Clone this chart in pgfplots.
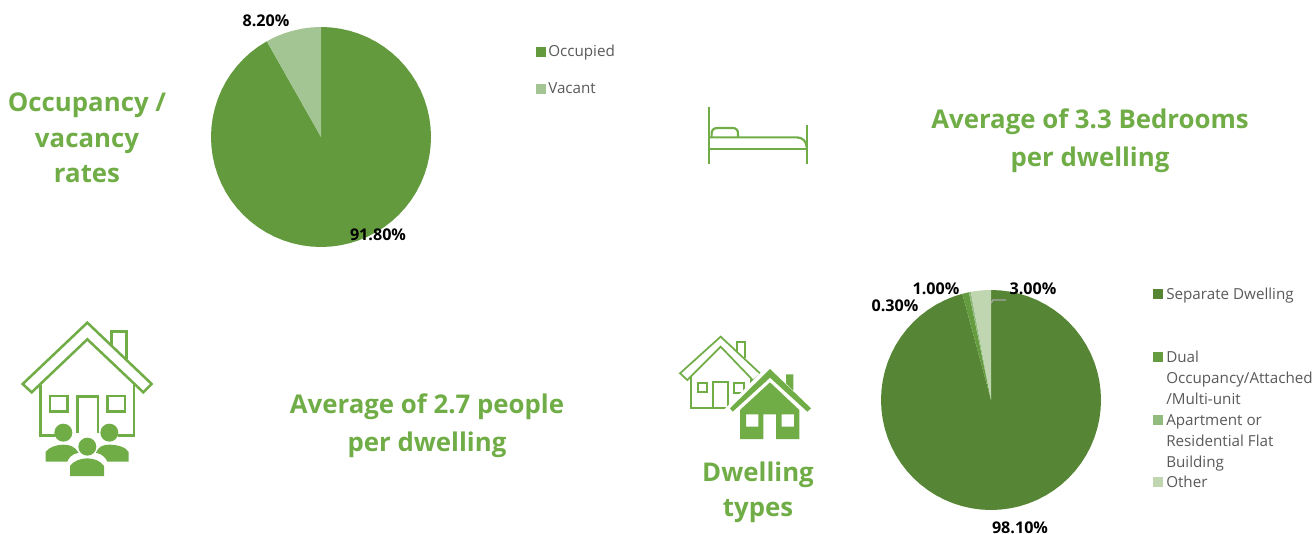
\documentclass[border=0pt]{standalone}
\usepackage{pgfplots}
\pgfplotsset{compat=1.18}
\usepgfplotslibrary{polar}
\usepackage{fontspec}
\setmainfont{Open Sans}

\definecolor{headgreen}{HTML}{70AD47}
\definecolor{occupied}{HTML}{629A3D}
\definecolor{vacant}{HTML}{A3C593}
\definecolor{separate}{HTML}{568535}
\definecolor{dual}{HTML}{659C3F}
\definecolor{apartment}{HTML}{92BB7E}
\definecolor{other}{HTML}{BFD6B1}
\definecolor{legendtext}{HTML}{595959}

% Sizes are given in drawing units: one unit is 0.75pt.
\newcommand{\headfont}{\fontsize{19.35}{23}\selectfont\bfseries\color{headgreen}}
\newcommand{\valfont}{\fontsize{12.1}{14}\selectfont\bfseries\color{black}}
\newcommand{\legfont}{\fontsize{11.4}{14}\selectfont\color{legendtext}}

\pgfplotsset{pieaxis/.style={
  hide axis, scale only axis, width=165pt, height=165pt,
  xmin=0, xmax=360, ymin=0, ymax=1, clip=false, anchor=center}}
\tikzset{wedge/.style={draw=none, mark=none}}

\begin{document}
\begin{tikzpicture}
\path[use as bounding box] (0,0) rectangle (987pt,-400.5pt);

% Occupancy: slices run clockwise from twelve o'clock, angle = 90 + 3.6 * share
\begin{polaraxis}[pieaxis, at={(240.75pt,-102.75pt)}]
\addplot[wedge, fill=occupied] coordinates {(0,0) (119.52,1) (125,1) (130,1) (135,1) (140,1) (145,1) (150,1) (155,1) (160,1) (165,1) (170,1) (175,1) (180,1) (185,1) (190,1) (195,1) (200,1) (205,1) (210,1) (215,1) (220,1) (225,1) (230,1) (235,1) (240,1) (245,1) (250,1) (255,1) (260,1) (265,1) (270,1) (275,1) (280,1) (285,1) (290,1) (295,1) (300,1) (305,1) (310,1) (315,1) (320,1) (325,1) (330,1) (335,1) (340,1) (345,1) (350,1) (355,1) (360,1) (365,1) (370,1) (375,1) (380,1) (385,1) (390,1) (395,1) (400,1) (405,1) (410,1) (415,1) (420,1) (425,1) (430,1) (435,1) (440,1) (445,1) (450,1) (0,0)};
\addplot[wedge, fill=vacant] coordinates {(0,0) (90,1) (95,1) (100,1) (105,1) (110,1) (115,1) (119.52,1) (0,0)};
\end{polaraxis}

% Dwelling types: the four shares add up to 102.4, so each angle is share / 102.4 * 360
\begin{polaraxis}[pieaxis, at={(743.25pt,-300pt)}]
\addplot[wedge, fill=separate] coordinates {(0,0) (105.12,1) (110,1) (115,1) (120,1) (125,1) (130,1) (135,1) (140,1) (145,1) (150,1) (155,1) (160,1) (165,1) (170,1) (175,1) (180,1) (185,1) (190,1) (195,1) (200,1) (205,1) (210,1) (215,1) (220,1) (225,1) (230,1) (235,1) (240,1) (245,1) (250,1) (255,1) (260,1) (265,1) (270,1) (275,1) (280,1) (285,1) (290,1) (295,1) (300,1) (305,1) (310,1) (315,1) (320,1) (325,1) (330,1) (335,1) (340,1) (345,1) (350,1) (355,1) (360,1) (365,1) (370,1) (375,1) (380,1) (385,1) (390,1) (395,1) (400,1) (405,1) (410,1) (415,1) (420,1) (425,1) (430,1) (435,1) (440,1) (445,1) (450,1) (0,0)};
\addplot[wedge, fill=dual] coordinates {(0,0) (101.6,1) (103.4,1) (105.12,1) (0,0)};
\addplot[wedge, fill=apartment] coordinates {(0,0) (100.55,1) (101.6,1) (0,0)};
\addplot[wedge, fill=other] coordinates {(0,0) (90,1) (92,1) (94,1) (96,1) (98,1) (100.55,1) (0,0)};
\end{polaraxis}

\begin{scope}[x=0.75pt, y=-0.75pt]
% Leader line of the 3.00% label
\draw[color=black!35, line width=1.1pt] (991,303) -- (993,300) -- (1006,300);

% Value labels
\node[anchor=base, inner sep=0pt] at (266,26.5) {\valfont 8.20\%};
\node[anchor=base, inner sep=0pt] at (378,240.5) {\valfont 91.80\%};
\node[anchor=base, inner sep=0pt] at (936,294.5) {\valfont 1.00\%};
\node[anchor=base, inner sep=0pt] at (1033,294.5) {\valfont 3.00\%};
\node[anchor=base, inner sep=0pt] at (895,311) {\valfont 0.30\%};
\node[anchor=base, inner sep=0pt] at (1020,533) {\valfont 98.10\%};

% Headings
\node[anchor=base, inner sep=0pt] at (87,111.5) {\headfont Occupancy /};
\node[anchor=base, inner sep=0pt] at (87,147.5) {\headfont vacancy};
\node[anchor=base, inner sep=0pt] at (87,182.5) {\headfont rates};
\node[anchor=base, inner sep=0pt] at (1090,128.5) {\headfont Average of 3.3 Bedrooms};
\node[anchor=base, inner sep=0pt] at (1090,166.5) {\headfont per dwelling};
\node[anchor=base, inner sep=0pt] at (427,413.5) {\headfont Average of 2.7 people};
\node[anchor=base, inner sep=0pt] at (427,451.5) {\headfont per dwelling};
\node[anchor=base, inner sep=0pt] at (758,481.5) {\headfont Dwelling};
\node[anchor=base, inner sep=0pt] at (758,516.5) {\headfont types};

% Legends
\fill[occupied] (536,47) rectangle (546,57);
\node[anchor=base west, inner sep=0pt] at (548,57) {\legfont Occupied};
\fill[vacant] (536,84) rectangle (546,94);
\node[anchor=base west, inner sep=0pt] at (548,94) {\legfont Vacant};
\fill[separate] (1153,289) rectangle (1163,299);
\node[anchor=base west, inner sep=0pt] at (1166,299.5) {\legfont Separate Dwelling};
\fill[dual] (1153,352) rectangle (1163,362);
\node[anchor=base west, inner sep=0pt] at (1166,362.5) {\legfont Dual};
\node[anchor=base west, inner sep=0pt] at (1166,383.5) {\legfont Occupancy/Attached};
\node[anchor=base west, inner sep=0pt] at (1166,404.5) {\legfont /Multi-unit};
\fill[apartment] (1153,415) rectangle (1163,425);
\node[anchor=base west, inner sep=0pt] at (1166,425.5) {\legfont Apartment or};
\node[anchor=base west, inner sep=0pt] at (1166,446.5) {\legfont Residential Flat};
\node[anchor=base west, inner sep=0pt] at (1166,467.5) {\legfont Building};
\fill[other] (1153,477) rectangle (1163,487);
\node[anchor=base west, inner sep=0pt] at (1166,487.5) {\legfont Other};
\end{scope}

% Bed icon
\begin{scope}[x=0.25pt, y=-0.25pt, shift={(2070,270)}, draw=headgreen, line width=1.6pt]
\draw (57,52) -- (57,222);
\draw (350,105) -- (350,222);
\draw (57,178) -- (350,178);
\draw (57,142) -- (320,142) .. controls (338,142) and (350,155) .. (350,172);
\draw (65,142) -- (65,130) .. controls (65,120) and (72,114) .. (82,114) -- (128,114) .. controls (138,114) and (144,120) .. (144,130) -- (144,142);
\end{scope}

% House with three residents
\begin{scope}[x=0.25pt, y=-0.25pt, shift={(30,930)}, draw=headgreen, line width=1.9pt]
\draw (232,38) -- (425,222) -- (400,247) -- (232,88) -- (65,247) -- (38,222) -- cycle;
\draw (305,108) -- (305,65) -- (350,65) -- (350,148);
\draw (92,225) -- (92,376) -- (135,376);
\draw (372,225) -- (372,376) -- (325,376);
\draw (203,370) -- (203,260) -- (264,260) -- (264,370);
\draw (120,258) rectangle (172,305);
\draw (292,258) rectangle (345,305);
\fill[headgreen] (160,368) circle[radius=27];
\fill[headgreen] (298,368) circle[radius=27];
\fill[headgreen] (107,455) -- (107,426) .. controls (115,412) and (140,404) .. (160,404) .. controls (180,404) and (195,410) .. (206,428) .. controls (185,432) and (175,445) .. (172,455) -- cycle;
\fill[headgreen] (356,455) -- (356,426) .. controls (348,412) and (323,404) .. (298,404) .. controls (278,404) and (265,410) .. (258,428) .. controls (278,432) and (288,445) .. (292,455) -- cycle;
\fill[headgreen] (232,410) circle[radius=27];
\fill[headgreen] (180,498) -- (180,468) .. controls (190,453) and (212,445) .. (232,445) .. controls (252,445) and (272,453) .. (282,468) -- (282,498) -- cycle;
\end{scope}

% Outlined house behind a solid one
\begin{scope}[x=0.25pt, y=-0.25pt, shift={(2010,990)}, draw=headgreen, line width=1.3pt]
\draw (152,20) -- (272,132) -- (250,152) -- (152,50) -- (52,150) -- (30,130) -- cycle;
\draw (200,62) -- (200,35) -- (225,35) -- (225,85);
\draw (62,142) -- (62,233) -- (178,233);
\draw (242,145) -- (242,205);
\draw (130,233) -- (130,155) -- (175,155) -- (175,233);
\draw (85,158) rectangle (112,186);
\draw (193,158) rectangle (222,188);
\fill[white] (300,100) -- (440,236) -- (410,258) -- (400,340) -- (200,340) -- (195,258) -- (165,236) -- cycle;
\fill[headgreen] (300,117) -- (423,235) -- (412,245) -- (300,143) -- (188,245) -- (180,235) -- cycle;
\fill[headgreen] (348,133) -- (370,133) -- (370,182) -- (348,160) -- cycle;
\fill[headgreen, even odd rule] (300,157) -- (388,240) -- (388,327) -- (318,327) -- (318,253) -- (280,253) -- (280,327) -- (210,327) -- (210,240) -- cycle
  (228,253) rectangle (265,290) (335,253) rectangle (372,290);
\end{scope}
\end{tikzpicture}
\end{document}
